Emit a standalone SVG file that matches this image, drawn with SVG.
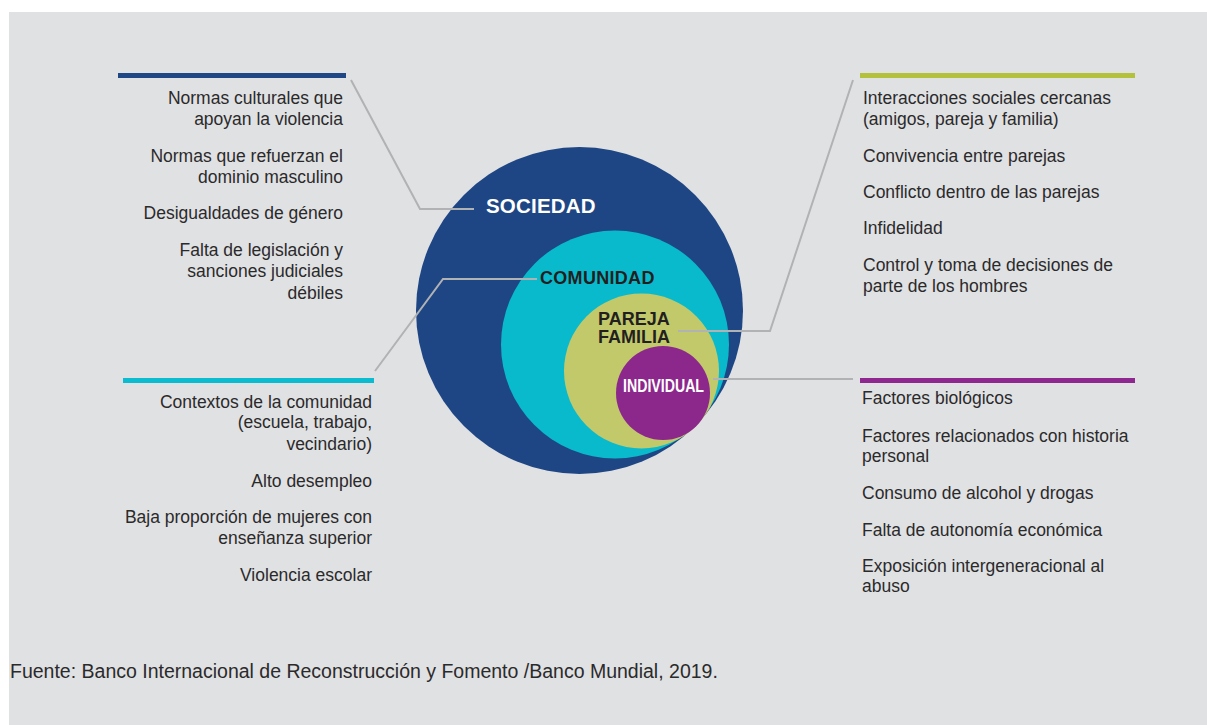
<svg xmlns="http://www.w3.org/2000/svg" width="1207" height="725" viewBox="0 0 1207 725">
  <style>
    .t { font-family: "Liberation Sans", Arial, sans-serif; font-size: 17.5px; fill: #2b2a2b; }
    .r { text-anchor: end; }
    .lbl { font-family: "Liberation Sans", Arial, sans-serif; font-weight: bold; }
    .con { fill: none; stroke: #b1b2b4; stroke-width: 2; }
    .src { font-family: "Liberation Sans", Arial, sans-serif; font-size: 19.5px; fill: #2b2a2b; }
  </style>
  <rect x="0" y="0" width="1207" height="725" fill="#ffffff"/>
  <rect x="9" y="12" width="1198" height="713" fill="#e0e1e3"/>

  <g id="sociedad">
    <circle cx="579.5" cy="310.5" r="163.5" fill="#1f4684"/>
  </g>
  <g id="comunidad">
    <circle cx="615" cy="344.5" r="114" fill="#09bacd"/>
  </g>
  <g id="pareja">
    <circle cx="641.5" cy="371" r="77.5" fill="#c2c96b"/>
  </g>
  <g id="individual">
    <circle cx="663" cy="393" r="47" fill="#8c278c"/>
  </g>

  <g id="connectors">
    <polyline class="con" points="351,80 420,209 474,209"/>
    <polyline class="con" points="537,279 443,279 375,371"/>
    <polyline class="con" points="678,331 770,331 853,80"/>
    <polyline class="con" points="713,379 853,379"/>
  </g>

  <g id="labels">
    <text class="lbl" x="486" y="213" font-size="20.5" letter-spacing="0.2" fill="#ffffff">SOCIEDAD</text>
    <text class="lbl" x="540" y="284" font-size="18" letter-spacing="0.3" fill="#231f20">COMUNIDAD</text>
    <text class="lbl" x="598" y="325" font-size="18" fill="#231f20">PAREJA</text>
    <text class="lbl" x="598" y="343" font-size="18" fill="#231f20">FAMILIA</text>
    <text class="lbl" x="623" y="392" font-size="17.5" textLength="81" lengthAdjust="spacingAndGlyphs" fill="#ffffff">INDIVIDUAL</text>
  </g>

  <g id="sociedad-factors">
    <rect x="118" y="73" width="228" height="5" fill="#1f4785"/>
    <text class="t r" x="343" y="104">Normas culturales que</text>
    <text class="t r" x="343" y="125">apoyan la violencia</text>
    <text class="t r" x="343" y="162">Normas que refuerzan el</text>
    <text class="t r" x="343" y="183">dominio masculino</text>
    <text class="t r" x="343" y="219">Desigualdades de género</text>
    <text class="t r" x="343" y="256">Falta de legislación y</text>
    <text class="t r" x="343" y="277">sanciones judiciales</text>
    <text class="t r" x="343" y="299">débiles</text>
  </g>

  <g id="comunidad-factors">
    <rect x="123" y="378" width="251" height="5" fill="#0bbbcf"/>
    <text class="t r" x="372" y="408">Contextos de la comunidad</text>
    <text class="t r" x="372" y="428">(escuela, trabajo,</text>
    <text class="t r" x="372" y="450">vecindario)</text>
    <text class="t r" x="372" y="487">Alto desempleo</text>
    <text class="t r" x="372" y="523">Baja proporción de mujeres con</text>
    <text class="t r" x="372" y="544">enseñanza superior</text>
    <text class="t r" x="372" y="581">Violencia escolar</text>
  </g>

  <g id="pareja-factors">
    <rect x="860" y="73" width="275" height="5" fill="#b3c13c"/>
    <text class="t" x="863" y="104">Interacciones sociales cercanas</text>
    <text class="t" x="863" y="125">(amigos, pareja y familia)</text>
    <text class="t" x="863" y="162">Convivencia entre parejas</text>
    <text class="t" x="863" y="198">Conflicto dentro de las parejas</text>
    <text class="t" x="863" y="234">Infidelidad</text>
    <text class="t" x="863" y="271">Control y toma de decisiones de</text>
    <text class="t" x="863" y="292">parte de los hombres</text>
  </g>

  <g id="individual-factors">
    <rect x="860" y="378" width="275" height="5" fill="#8e278f"/>
    <text class="t" x="862" y="404">Factores biológicos</text>
    <text class="t" x="862" y="442">Factores relacionados con historia</text>
    <text class="t" x="862" y="462">personal</text>
    <text class="t" x="862" y="499">Consumo de alcohol y drogas</text>
    <text class="t" x="862" y="536">Falta de autonomía económica</text>
    <text class="t" x="862" y="572">Exposición intergeneracional al</text>
    <text class="t" x="862" y="592">abuso</text>
  </g>

  <text class="src" x="10" y="678">Fuente: Banco Internacional de Reconstrucción y Fomento /Banco Mundial, 2019.</text>
</svg>
